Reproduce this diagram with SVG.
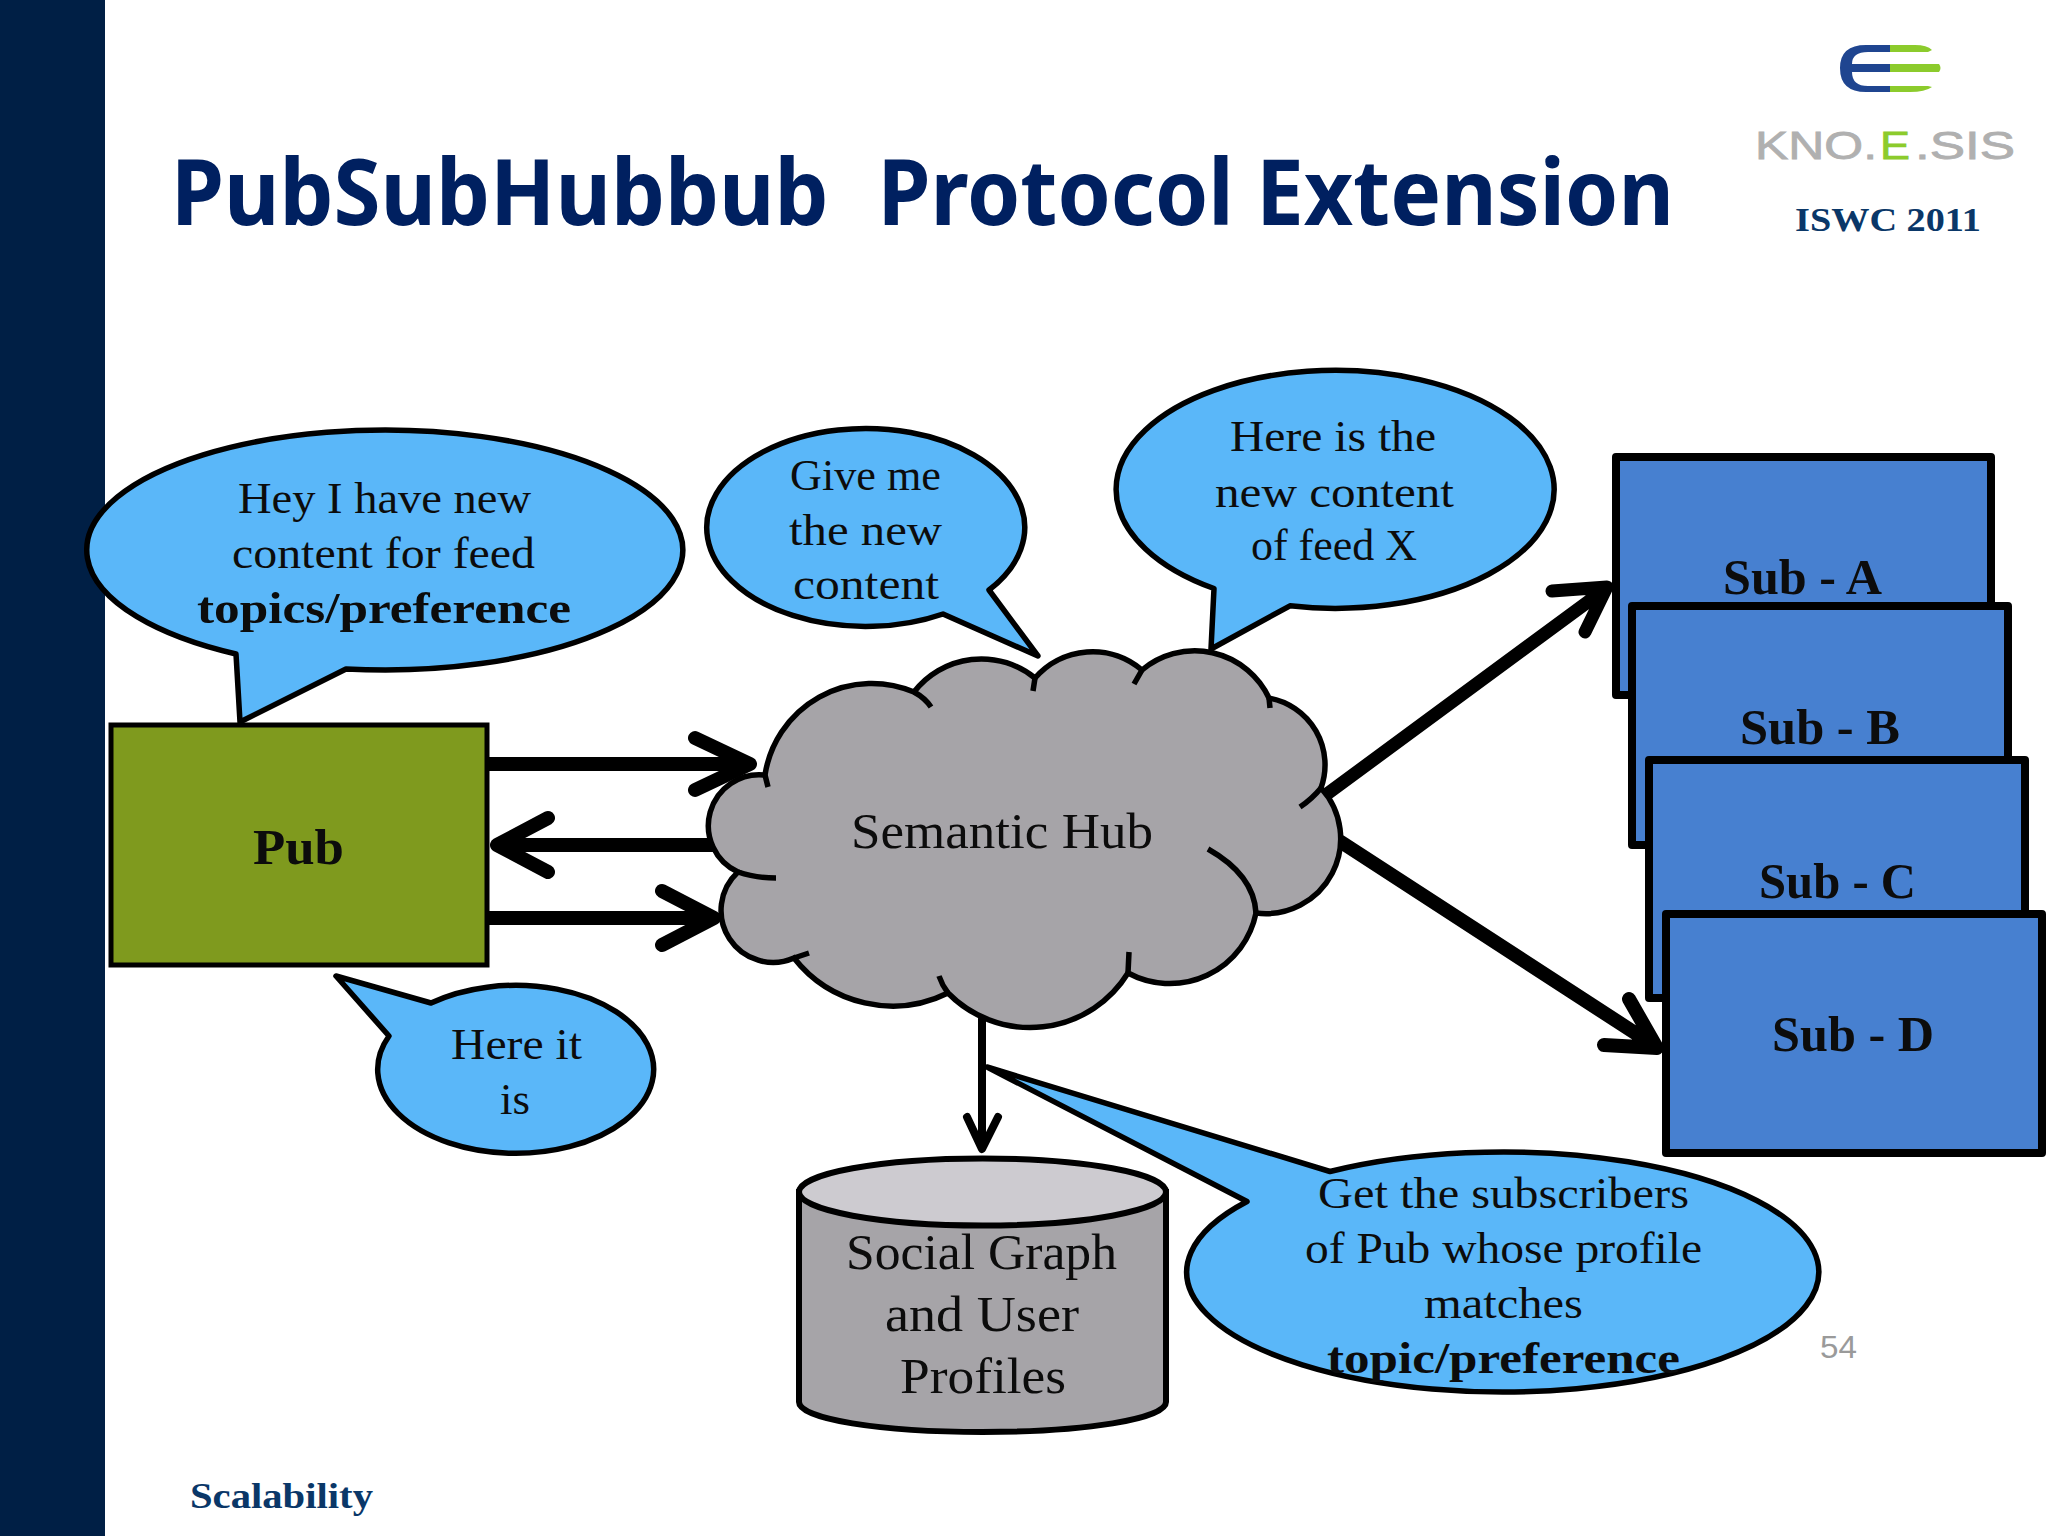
<svg xmlns="http://www.w3.org/2000/svg" width="2048" height="1536" viewBox="0 0 2048 1536">
<style>
.s{font-family:"Liberation Serif","DejaVu Serif",serif;font-size:45px;fill:#0c0c0c}
.m{font-size:50px}
.b{font-weight:700}
.c{fill:#5ab7f9;stroke:#000;stroke-width:5.5;stroke-linejoin:round}
.l{fill:none;stroke:#000;stroke-linecap:round;stroke-linejoin:round}
.sub{fill:#4780d0;stroke:#000;stroke-width:8;stroke-linejoin:round}
.h{fill:#a6a4a8}
.t{fill:none;stroke:#000;stroke-width:5.5}
.n{fill:#0a3768;font-family:"Liberation Serif",serif;font-weight:700}
.k{font-family:"Liberation Sans",sans-serif;font-size:38px;fill:#b0b0b0;stroke:#b0b0b0;stroke-width:.8}
.g{fill:#8ccb2c;stroke:#8ccb2c}
</style>
<rect width="2048" height="1536" fill="#fff"/>
<rect id="sidebar" width="105" height="1536" fill="#001f45"/>
<text id="title" x="171" y="225" textLength="1503" lengthAdjust="spacingAndGlyphs" xml:space="preserve" style="font-family:'Noto Sans',sans-serif;font-weight:700;font-size:91px;fill:#002060">PubSubHubbub  <tspan dx="5">Protocol Extension</tspan></text>
<g id="logo">
<path d="M1890 45H1866Q1840 45 1840 68Q1840 92 1866 92H1890V86H1868Q1852 86 1852 72H1890V64H1852Q1852 52 1868 52H1890Z" fill="#1f4590"/>
<path d="M1890 45H1915Q1927 45 1932 50L1928 52H1890ZM1890 64H1939Q1942 68 1939 72H1890ZM1890 86H1928L1932 87Q1925 92 1910 92H1890Z" fill="#8ccb2c"/>
<text class="k" x="1755" y="159" textLength="122" lengthAdjust="spacingAndGlyphs">KNO.</text>
<text class="k g" x="1880" y="159" textLength="30" lengthAdjust="spacingAndGlyphs">E</text>
<text class="k" x="1915" y="159" textLength="100" lengthAdjust="spacingAndGlyphs">.SIS</text>
<text class="n" x="1795" y="231" textLength="186" lengthAdjust="spacingAndGlyphs" font-size="34">ISWC 2011</text>
</g>
<g id="connectors">
<path class="l" stroke-width="14" d="M487 764H745M695 738L750 764L695 790"/>
<path class="l" stroke-width="14" d="M720 845H500M548 818L497 845L548 872"/>
<path class="l" stroke-width="14" d="M487 918H710M662 891L714 918L662 945"/>
<path class="l" stroke-width="13" d="M1327 794L1604 590M1552 591L1607 587L1585 632"/>
<path class="l" stroke-width="14" d="M1341 842L1652 1044M1629 999L1657 1048L1604 1045"/>
<path class="l" stroke-width="8" d="M982 1019V1148M967 1117L982 1149L998 1117"/>
</g>
<g id="hub">
<path class="h" stroke="#000" stroke-width="5.5" d="M765 775A108 108 0 0 1 914 692A85 85 0 0 1 1035 678A76 76 0 0 1 1142 670A82 82 0 0 1 1269 698A68 68 0 0 1 1321 788A75 75 0 0 1 1256 913A88 88 0 0 1 1128 973A115 115 0 0 1 948 993A125 125 0 0 1 794 958A52 52 0 0 1 738 872A51 51 0 0 1 765 775Z"/>
<path class="t" d="M765 775L768 787M914 692Q925 698 931 707M1035 678L1033 691M1142 670L1134 684M1269 698L1270 708M1321 788Q1312 799 1300 807M1256 913Q1254 875 1208 849M1128 973L1129 952M948 993Q942 985 939 976M794 958L809 953M738 872Q755 878 776 878"/>
<text class="s m" x="851" y="848" textLength="302" lengthAdjust="spacingAndGlyphs">Semantic Hub</text>
</g>
<g id="pub">
<rect x="111" y="725" width="376" height="240" fill="#7f9a1e" stroke="#000" stroke-width="5"/>
<text class="s m b" x="253" y="864" textLength="91" lengthAdjust="spacingAndGlyphs">Pub</text>
</g>
<g id="sub-a"><rect class="sub" x="1616" y="457" width="375" height="238"/><text class="s m b" x="1723" y="594" textLength="159" lengthAdjust="spacingAndGlyphs">Sub - A</text></g>
<g id="sub-b"><rect class="sub" x="1632" y="606" width="376" height="239"/><text class="s m b" x="1740" y="744" textLength="160" lengthAdjust="spacingAndGlyphs">Sub - B</text></g>
<g id="sub-c"><rect class="sub" x="1649" y="760" width="376" height="238"/><text class="s m b" x="1759" y="898" textLength="157" lengthAdjust="spacingAndGlyphs">Sub - C</text></g>
<g id="sub-d"><rect class="sub" x="1666" y="914" width="376" height="239"/><text class="s m b" x="1772" y="1051" textLength="162" lengthAdjust="spacingAndGlyphs">Sub - D</text></g>
<g id="callout-pub">
<path class="c" d="M240 722L346 669A298 120 0 1 0 236 654Z"/>
<text class="s" x="238" y="513" textLength="293" lengthAdjust="spacingAndGlyphs">Hey I have new</text>
<text class="s" x="232" y="568" textLength="303" lengthAdjust="spacingAndGlyphs">content for feed</text>
<text class="s b" x="197" y="623" textLength="374" lengthAdjust="spacingAndGlyphs">topics/preference</text>
</g>
<g id="callout-give">
<path class="c" d="M1038 656L989 590A159 99 0 1 0 943 614Z"/>
<text class="s" x="790" y="490" textLength="151" lengthAdjust="spacingAndGlyphs">Give me</text>
<text class="s" x="789" y="545" textLength="153" lengthAdjust="spacingAndGlyphs">the new</text>
<text class="s" x="793" y="599" textLength="146" lengthAdjust="spacingAndGlyphs">content</text>
</g>
<g id="callout-here">
<path class="c" d="M1211 649L1290 605.800A219 119 0 1 0 1214 588.500Z"/>
<text class="s" x="1230" y="451" textLength="206" lengthAdjust="spacingAndGlyphs">Here is the</text>
<text class="s" x="1215" y="507" textLength="239" lengthAdjust="spacingAndGlyphs">new content</text>
<text class="s" x="1251" y="560" textLength="166" lengthAdjust="spacingAndGlyphs">of feed X</text>
</g>
<g id="callout-hereit">
<path class="c" d="M336 976L431 1003A138 84 0 1 1 389 1036Z"/>
<text class="s" x="451" y="1059" textLength="131" lengthAdjust="spacingAndGlyphs">Here it</text>
<text class="s" x="500" y="1114" textLength="30" lengthAdjust="spacingAndGlyphs">is</text>
</g>
<g id="store">
<path d="M799 1192V1402C799 1419 880 1432 982.500 1432S1166 1419 1166 1402V1192Z" class="h" stroke="#000" stroke-width="6"/>
<ellipse cx="982.500" cy="1192" rx="183.500" ry="33.500" fill="#cdcbd0" stroke="#000" stroke-width="6"/>
<text class="s m" x="846" y="1269" textLength="271" lengthAdjust="spacingAndGlyphs">Social Graph</text>
<text class="s m" x="885" y="1331" textLength="194" lengthAdjust="spacingAndGlyphs">and User</text>
<text class="s m" x="900" y="1393" textLength="166" lengthAdjust="spacingAndGlyphs">Profiles</text>
</g>
<g id="callout-get">
<path class="c" d="M987 1067L1330 1171.500A316 120 0 1 1 1247 1201.500Z"/>
<text class="s" x="1318" y="1208" textLength="371" lengthAdjust="spacingAndGlyphs">Get the subscribers</text>
<text class="s" x="1305" y="1263" textLength="397" lengthAdjust="spacingAndGlyphs">of Pub whose profile</text>
<text class="s" x="1424" y="1318" textLength="159" lengthAdjust="spacingAndGlyphs">matches</text>
<text class="s b" x="1327" y="1373" textLength="353" lengthAdjust="spacingAndGlyphs">topic/preference</text>
</g>
<text id="page" x="1820" y="1358" textLength="37" lengthAdjust="spacingAndGlyphs" style="font-family:'Liberation Sans',sans-serif;font-size:32px;fill:#9a9a9a">54</text>
<text id="footer" class="n" x="190" y="1508" textLength="183" lengthAdjust="spacingAndGlyphs" font-size="35">Scalability</text>
</svg>
